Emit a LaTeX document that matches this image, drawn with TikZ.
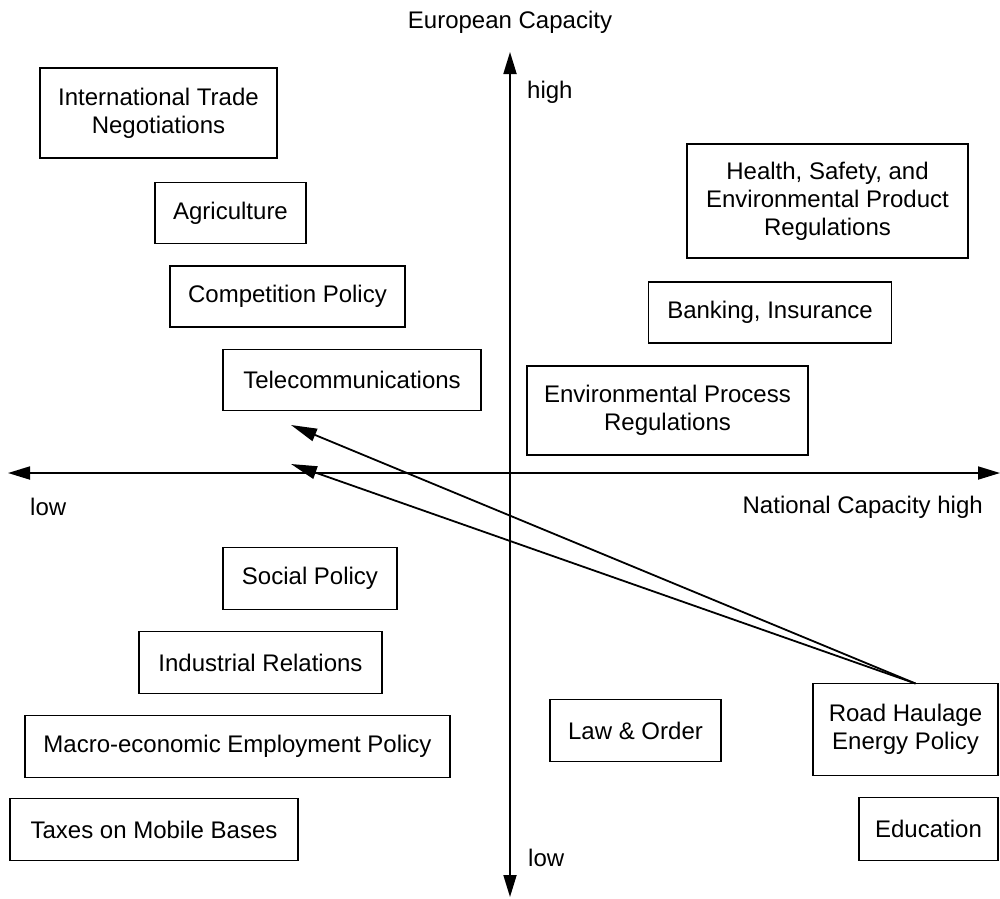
\documentclass[tikz,border=0pt]{standalone}
\usepackage{fontspec}
\setmainfont{Liberation Sans}
\usetikzlibrary{arrows.meta}
\begin{document}
\begin{tikzpicture}[x=1pt,y=-1pt,
  font=\fontsize{24}{28}\selectfont,
  box/.style={draw,line width=1.8pt,align=center,inner sep=0pt,outer sep=0pt},
  axis/.style={line width=1.8pt,{Triangle[length=22pt,width=13pt]}-{Triangle[length=22pt,width=13pt]}},
  shiftarrow/.style={line width=1.8pt,-{Triangle[length=26pt,width=13pt]}},
  lbl/.style={inner sep=0pt}]
\useasboundingbox (0,0) rectangle (1000,898);
% axes
\coordinate (xl) at (8,473);
\coordinate (xr) at (1000,473);
\coordinate (yt) at (510,52);
\coordinate (yb) at (510,897);
\draw[axis] (xl) -- (xr);
\draw[axis] (yb) -- (yt);
% axis labels
\node[lbl] (ec) at (510,22) {European Capacity};
\node[lbl,anchor=west] (hi) at (527,92) {high};
\node[lbl,anchor=west] (lo) at (30,507) {low};
\node[lbl,anchor=east] (nc) at (983,507) {National Capacity high};
\node[lbl,anchor=west] (lo2) at (528,858) {low};
% boxes
\node[box,minimum width=237pt,minimum height=90pt] (itn) at (158.5,113) {International Trade\\Negotiations};
\node[box,minimum width=151pt,minimum height=61pt] (agr) at (230.5,213) {Agriculture};
\node[box,minimum width=235pt,minimum height=61pt] (comp) at (287.5,296.5) {Competition Policy};
\node[box,minimum width=258pt,minimum height=61pt] (tele) at (352,380) {Telecommunications};
\node[box,minimum width=281pt,minimum height=114pt] (hse) at (827.5,201) {Health, Safety, and\\Environmental Product\\Regulations};
\node[box,minimum width=243pt,minimum height=61pt] (bank) at (770,312.5) {Banking, Insurance};
\node[box,minimum width=281pt,minimum height=89pt] (env) at (667.5,410.5) {Environmental Process\\Regulations};
\node[box,minimum width=174pt,minimum height=62pt] (soc) at (310,578.5) {Social Policy};
\node[box,minimum width=243pt,minimum height=62pt] (ind) at (260.5,662.5) {Industrial Relations};
\node[box,minimum width=425pt,minimum height=62pt] (macro) at (237.5,746.5) {Macro-economic Employment Policy};
\node[box,minimum width=288pt,minimum height=62pt] (tax) at (154,829.5) {Taxes on Mobile Bases};
\node[box,minimum width=171pt,minimum height=62pt] (law) at (635.5,730.5) {Law \& Order};
\node[box,minimum width=185pt,minimum height=92pt] (road) at (905.5,729.5) {Road Haulage\\Energy Policy};
\node[box,minimum width=139pt,minimum height=63pt] (edu) at (928.5,829) {Education};
% shift arrows
\coordinate (rs) at ([xshift=10pt]road.north);
\coordinate (t1) at (291,425);
\coordinate (t2) at (291,464);
\draw[shiftarrow] (rs) -- (t1);
\draw[shiftarrow] (rs) -- (t2);
\end{tikzpicture}
\end{document}
